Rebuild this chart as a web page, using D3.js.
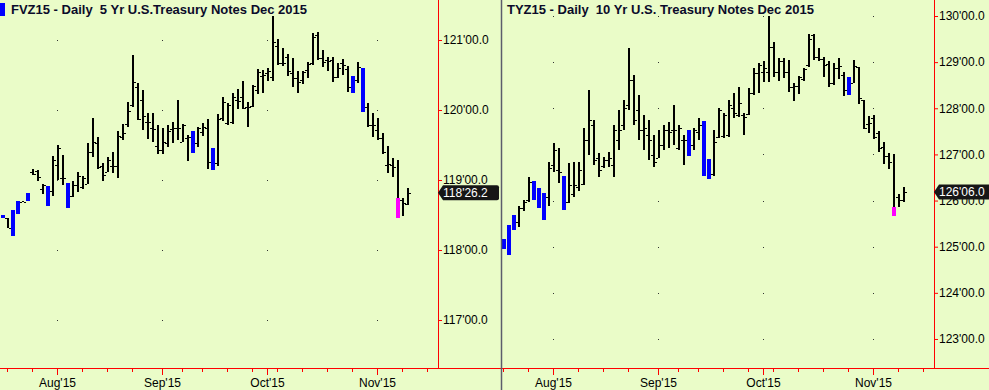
<!DOCTYPE html>
<html>
<head>
<meta charset="utf-8">
<script src="https://cdn.jsdelivr.net/npm/d3@7"></script>
<style>
body { margin: 0; background: #eafcc8; }
text { font-family: Arial, "Liberation Sans", sans-serif; }
</style>
</head>
<body>
<svg id="chart" width="989" height="390"></svg>
<script>
// trading calendar (Labor Day closed)
const firstDay = new Date(2015, 6, 17);
const lastAxisDay = new Date(2015, 10, 28);
const holidays = ["2015-09-07"];

// FVZ15 - 5 Yr notes, daily OHLC
const fvOpen = [118.50,118.46,118.571,118.70,118.69,118.814,119.119,119.13,118.867,118.914,
  118.843,119.214,119.029,118.961,118.776,118.929,118.904,118.939,119.396,119.524,
  119.204,119.119,119.20,119.20,119.61,119.80,120.071,120.324,120.143,119.833,
  119.739,119.49,119.429,119.524,119.724,119.743,119.539,119.596,119.704,119.524,
  119.69,119.739,119.461,119.247,119.881,119.819,119.824,120.143,120.181,120.047,
  120.057,120.286,120.486,120.533,120.476,120.914,120.676,120.761,120.533,120.453,
  120.429,120.571,120.667,121.071,120.739,120.714,120.714,120.476,120.667,120.581,
  120.486,120.429,120.596,120.047,119.786,119.714,119.596,119.214,119.214,119.257,
  118.714,118.657];
const fvHigh = [118.50,118.46,118.571,118.70,118.70,118.814,119.153,119.139,118.939,118.914,
  119.343,119.50,119.357,118.961,118.986,119.11,119.061,119.524,119.886,119.619,
  119.239,119.324,119.40,119.704,119.796,120.119,120.786,120.39,120.286,119.953,
  119.953,119.786,119.739,119.786,119.833,120.143,119.80,119.643,119.704,119.761,
  119.819,119.867,119.461,119.943,120.181,120.096,120.239,120.296,120.414,120.119,
  120.357,120.581,120.571,120.596,121.343,121.01,120.881,120.80,120.739,120.561,
  120.561,120.69,121.096,121.11,120.857,120.761,120.761,120.676,120.724,120.629,
  120.486,120.69,120.596,120.104,119.953,119.881,119.667,119.486,119.31,119.286,
  118.739,118.89];
const fvLow = [118.457,118.31,118.204,118.519,118.686,118.704,119.067,118.99,118.80,118.633,
  118.776,118.996,118.929,118.604,118.761,118.833,118.867,118.939,119.333,119.157,
  118.99,119.119,119.096,119.033,119.576,119.761,120.047,119.857,119.714,119.581,
  119.547,119.371,119.371,119.476,119.524,119.571,119.539,119.276,119.39,119.467,
  119.629,119.153,119.143,119.20,119.847,119.786,119.80,120.01,120.01,119.761,
  120.039,120.229,120.247,120.419,120.419,120.643,120.629,120.486,120.324,120.247,
  120.371,120.461,120.643,120.714,120.619,120.561,120.404,120.453,120.50,120.261,
  120.247,120.39,119.976,119.753,119.619,119.571,119.371,119.104,119.047,118.461,
  118.49,118.643];
const fvClose = [118.457,118.32,118.204,118.519,118.69,118.704,119.086,119.047,118.929,118.633,
  119.286,119.453,119.029,118.604,118.929,119.061,119.033,119.396,119.539,119.19,
  119.071,119.286,119.20,119.633,119.676,119.99,120.396,119.867,119.914,119.833,
  119.724,119.429,119.547,119.704,119.739,119.743,119.786,119.61,119.39,119.739,
  119.753,119.261,119.143,119.867,120.119,120.071,120.181,120.133,120.024,120.047,
  120.343,120.547,120.50,120.557,120.976,120.667,120.676,120.561,120.453,120.404,
  120.547,120.657,121.047,120.739,120.69,120.704,120.476,120.604,120.643,120.333,
  120.247,120.61,119.976,119.786,119.786,119.596,119.404,119.229,119.19,118.739,
  118.667,118.81875];
const fvBlue = [0, 2, 3, 5, 9, 13, 38, 42, 70, 72];
const fvMagenta = [79];
const fvTicks = [117, 118, 119, 120, 121];

// TYZ15 - 10 Yr notes, daily OHLC
const tyOpen = [125.254,125.167,125.47,125.687,125.542,125.839,126.012,126.424,126.266,126.17,
  126.084,126.771,126.662,126.532,125.975,126.142,126.294,126.359,127.312,127.638,
  126.922,126.749,126.879,126.771,127.312,127.638,128.071,128.613,127.963,127.529,
  127.421,126.987,126.922,127.204,127.529,127.529,127.139,127.312,127.529,127.204,
  127.486,127.731,126.901,126.569,127.384,127.399,127.421,127.999,127.854,127.854,
  127.876,128.338,128.758,128.793,128.793,129.322,128.793,129.025,128.793,128.455,
  128.483,128.628,128.938,129.588,129.105,129.068,128.953,128.541,128.866,128.721,
  128.671,128.541,128.894,128.179,127.659,127.783,127.458,127.167,126.966,126.95,
  126.084,126.012];
const tyHigh = [125.254,125.167,125.47,125.687,125.882,126.012,126.517,126.424,126.266,126.17,
  126.842,127.247,127.139,126.532,126.808,126.829,126.829,127.573,128.396,127.746,
  127.024,126.951,127.059,127.638,127.963,128.18,129.306,128.721,128.288,127.855,
  127.746,127.421,127.529,127.638,127.703,128.071,127.638,127.421,127.529,127.573,
  127.789,127.731,126.901,127.529,128.0,127.891,128.179,128.325,128.455,127.891,
  128.433,128.866,128.975,129.025,130.0,129.443,129.083,129.083,129.046,128.541,
  128.70,128.866,129.61,129.61,129.30,129.105,129.031,128.975,129.083,128.793,
  128.671,129.046,128.901,128.179,127.833,127.854,127.508,127.276,127.037,127.003,
  126.142,126.287];
const tyLow = [124.93,124.95,124.82,125.362,125.42,125.78,125.962,126.012,125.845,125.579,
  125.882,126.619,126.381,125.795,125.954,126.084,126.214,126.337,126.987,126.771,
  126.517,126.699,126.734,126.504,127.096,127.529,127.963,127.638,127.312,127.096,
  126.879,126.734,126.916,127.096,127.139,127.204,127.096,126.771,126.972,127.096,
  127.312,126.539,126.467,126.539,127.349,127.349,127.384,127.783,127.804,127.421,
  127.854,128.288,128.325,128.576,128.576,128.684,128.591,128.65,128.346,128.158,
  128.309,128.598,128.901,129.046,129.025,128.684,128.455,128.505,128.635,128.266,
  128.294,128.541,128.093,127.544,127.458,127.328,127.059,126.786,126.677,125.665,
  125.867,125.975];
const tyClose = [124.93,124.95,124.82,125.362,125.832,125.969,126.396,126.012,125.845,125.579,
  126.699,127.096,126.619,125.795,126.337,126.337,126.662,127.312,127.746,126.879,
  126.662,126.879,126.922,127.529,127.529,128.006,128.613,127.746,127.529,127.573,
  127.312,126.836,127.204,127.529,127.486,127.529,127.573,127.312,126.972,127.529,
  127.638,126.539,126.467,127.276,127.963,127.854,128.071,127.891,128.108,127.817,
  128.338,128.771,128.938,128.866,129.322,128.793,129.025,128.793,128.455,128.483,
  128.671,128.845,129.495,129.105,129.068,128.938,128.541,128.866,128.923,128.396,
  128.294,128.916,128.216,127.566,127.674,127.384,127.133,126.966,126.842,125.867,
  126.012,126.1875];
const tyBlue = [0, 1, 2, 3, 7, 8, 9, 13, 38, 41, 42, 70];
const tyMagenta = [79];
const tyTicks = [123, 124, 125, 126, 127, 128, 129, 130];

const svg = d3.select("#chart");
const fmtDay = d3.timeFormat("%Y-%m-%d");
const fmtMonth = d3.timeFormat("%b'%y");

const days = d3.timeDay.range(firstDay, lastAxisDay)
    .filter(d => d.getDay() > 0 && d.getDay() < 6 && !holidays.includes(fmtDay(d)));
const idx = days.map((d, i) => i);
const monthIdx = idx.filter(i => i > 0 && days[i].getMonth() != days[i - 1].getMonth());
const weekIdx = idx.filter(i => i > 0 && days[i].getDay() < days[i - 1].getDay()
    && !monthIdx.some(m => Math.abs(m - i) <= 1));

function fmt32(p) {
    let w = Math.floor(p + 1e-9);
    let f = (p - w) * 32;
    return w + "'" + (f < 9.95 ? "0" : "") + f.toFixed(1);
}

const panels = [
    { left: 0, right: 438, clipL: 0, off: 3, yDom: [118, 120], yRng: [250, 110],
      title: "FVZ15 - Daily  5 Yr U.S.Treasury Notes Dec 2015", titleX: 11, mark: true,
      o: fvOpen, h: fvHigh, l: fvLow, c: fvClose, blue: fvBlue, mag: fvMagenta, ticks: fvTicks },
    { left: 502, right: 934, clipL: 502, off: 499, yDom: [125, 129], yRng: [246.7, 62.14],
      title: "TYZ15 - Daily  10 Yr U.S. Treasury Notes Dec 2015", titleX: 507, mark: false,
      o: tyOpen, h: tyHigh, l: tyLow, c: tyClose, blue: tyBlue, mag: tyMagenta, ticks: tyTicks }
];

panels.forEach((p, k) => {
    const x = d3.scaleLinear().domain([0, 1]).range([p.off, p.off + 5]);
    const y = d3.scaleLinear().domain(p.yDom).range(p.yRng);
    const R = v => Math.round(y(v));

    svg.append("clipPath").attr("id", "clip" + k)
        .append("rect").attr("x", p.clipL).attr("y", 0)
        .attr("width", p.right - p.clipL).attr("height", 368);

    // grid dots
    const dots = [];
    monthIdx.forEach(m => p.ticks.forEach(t => dots.push([m, t])));
    svg.append("g").selectAll("rect").data(dots).join("rect")
        .attr("x", d => x(d[0]) - 1).attr("y", d => R(d[1]))
        .attr("width", 1).attr("height", 1).attr("fill", "#333");

    // bars
    const g = svg.append("g").attr("clip-path", "url(#clip" + k + ")");
    p.h.forEach((hv, i) => {
        const cx = x(i);
        if (p.blue.includes(i)) {
            g.append("rect").attr("x", cx - 2).attr("y", R(hv))
                .attr("width", 4).attr("height", Math.max(1, R(p.l[i]) - R(hv)))
                .attr("fill", "#0000ff");
        } else if (p.mag.includes(i)) {
            g.append("rect").attr("x", cx - 1).attr("y", R(hv))
                .attr("width", 2).attr("height", R(p.c[i]) - R(hv)).attr("fill", "#000");
            g.append("rect").attr("x", cx - 2).attr("y", R(p.c[i]))
                .attr("width", 4).attr("height", R(p.l[i]) - R(p.c[i]))
                .attr("fill", "#ff00ff");
        } else {
            g.append("rect").attr("x", cx - 1).attr("y", R(hv))
                .attr("width", 2).attr("height", Math.max(1, R(p.l[i]) - R(hv)))
                .attr("fill", "#000");
            g.append("rect").attr("x", cx - 3).attr("y", R(p.o[i]))
                .attr("width", 2).attr("height", 1).attr("fill", "#000");
            g.append("rect").attr("x", cx + 1).attr("y", R(p.c[i]))
                .attr("width", 2).attr("height", 1).attr("fill", "#000");
        }
    });

    // frame lines
    svg.append("line").attr("x1", p.right + 0.5).attr("x2", p.right + 0.5)
        .attr("y1", 0).attr("y2", 368).attr("stroke", "#ff0000");
    svg.append("line").attr("x1", k == 0 ? 0 : 502).attr("x2", k == 0 ? 501 : 989)
        .attr("y1", 368.5).attr("y2", 368.5).attr("stroke", "#ff0000");

    // x axis: weekly minor, monthly major
    const styleAxis = a => {
        a.select(".domain").remove();
        a.selectAll(".tick line").attr("stroke", "#ff0000");
        a.selectAll(".tick text").attr("fill", "#000").style("font-size", "12px");
    };
    svg.append("g").attr("transform", "translate(0,368)")
        .call(d3.axisBottom(x).tickValues(weekIdx.filter(i => x(i) < p.right - 2))
            .tickSize(4).tickFormat("").offset(-0.5))
        .call(styleAxis);
    svg.append("g").attr("transform", "translate(0,368)")
        .call(d3.axisBottom(x).tickValues(monthIdx).tickSize(7).tickPadding(3)
            .tickFormat(i => fmtMonth(days[i])).offset(-0.5))
        .call(styleAxis);

    // price axis
    svg.append("g").attr("transform", "translate(" + p.right + ",0)")
        .call(d3.axisRight(y).tickValues(p.ticks).tickSize(4).tickPadding(1)
            .tickFormat(fmt32).offset(0.5))
        .call(styleAxis);

    // last price box
    const last = p.c[p.c.length - 1];
    const yc = y(last);
    const bx = p.right;
    svg.append("path")
        .attr("d", `M${bx},${yc} L${bx + 5},${yc - 7.5} H${bx + 59} Q${bx + 61},${yc - 7.5} ${bx + 61},${yc - 5.5}
            V${yc + 5.5} Q${bx + 61},${yc + 7.5} ${bx + 59},${yc + 7.5} H${bx + 5} Z`)
        .attr("fill", "#161616");
    svg.append("text").attr("x", bx + 5).attr("y", yc).attr("dy", "0.36em")
        .attr("fill", "#fff").style("font-size", "12px").text(fmt32(last));

    // title
    if (p.mark) {
        svg.append("rect").attr("x", 0).attr("y", 3).attr("width", 5).attr("height", 13)
            .attr("fill", "#0000ff");
    }
    svg.append("text").attr("x", p.titleX).attr("y", 14)
        .style("font-size", "13px").style("font-weight", "bold").style("white-space", "pre")
        .attr("fill", "#0b0b2a").text(p.title);
});

// panel divider
svg.append("line").attr("x1", 501.5).attr("x2", 501.5).attr("y1", 0).attr("y2", 390)
    .attr("stroke", "#5c5c6c").attr("stroke-width", 1.5);
</script>
</body>
</html>
